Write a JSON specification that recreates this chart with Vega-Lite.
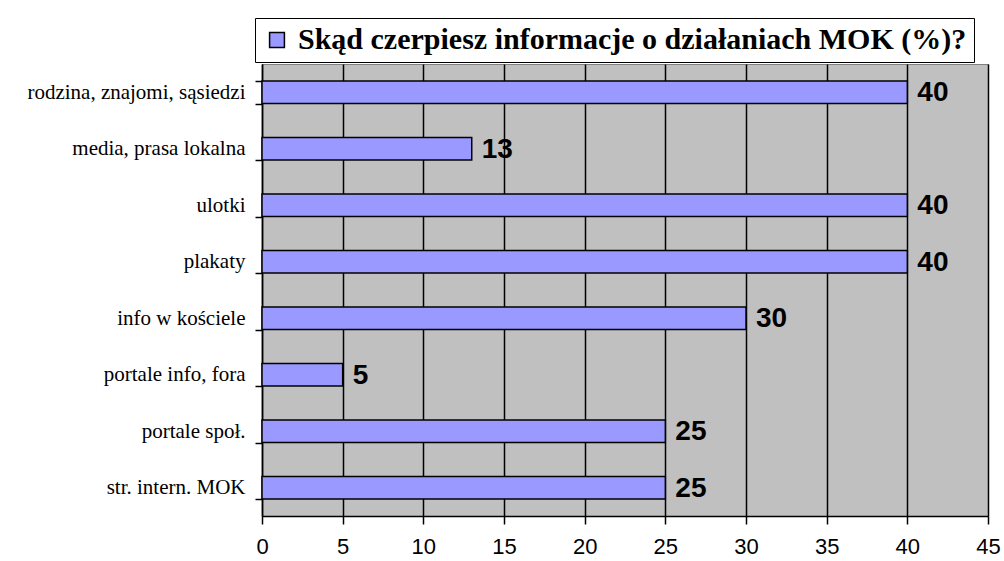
{
  "$schema": "https://vega.github.io/schema/vega-lite/v6.json",
  "width": 726,
  "height": 452,
  "autosize": {"type": "none"},
  "padding": {"left": 262, "top": 64, "right": 16, "bottom": 45},
  "background": "white",
  "config": {
    "view": {"fill": "#C0C0C0", "stroke": "#808080", "strokeWidth": 1}
  },
  "data": {
    "values": [
      {"source": "rodzina, znajomi, sąsiedzi", "value": 40, "series": "Skąd czerpiesz informacje o działaniach MOK (%)?"},
      {"source": "media, prasa lokalna", "value": 13, "series": "Skąd czerpiesz informacje o działaniach MOK (%)?"},
      {"source": "ulotki", "value": 40, "series": "Skąd czerpiesz informacje o działaniach MOK (%)?"},
      {"source": "plakaty", "value": 40, "series": "Skąd czerpiesz informacje o działaniach MOK (%)?"},
      {"source": "info w kościele", "value": 30, "series": "Skąd czerpiesz informacje o działaniach MOK (%)?"},
      {"source": "portale info, fora", "value": 5, "series": "Skąd czerpiesz informacje o działaniach MOK (%)?"},
      {"source": "portale społ.", "value": 25, "series": "Skąd czerpiesz informacje o działaniach MOK (%)?"},
      {"source": "str. intern. MOK", "value": 25, "series": "Skąd czerpiesz informacje o działaniach MOK (%)?"}
    ]
  },
  "encoding": {
    "y": {
      "field": "source",
      "type": "nominal",
      "sort": null,
      "scale": {"paddingInner": 0.6, "paddingOuter": 0.3},
      "axis": {
        "title": null,
        "tickBand": "extent",
        "domainColor": "black",
        "domainWidth": 1.5,
        "tickColor": "black",
        "tickWidth": 1.5,
        "tickSize": 7,
        "labelFont": "Liberation Serif",
        "labelFontSize": 21,
        "labelColor": "black",
        "labelPadding": 10,
        "labelLimit": 300,
        "grid": false
      }
    },
    "x": {
      "field": "value",
      "type": "quantitative",
      "scale": {"domain": [0, 45], "nice": false},
      "axis": {
        "title": null,
        "values": [0, 5, 10, 15, 20, 25, 30, 35, 40, 45],
        "grid": true,
        "gridColor": "black",
        "gridWidth": 1.5,
        "gridOpacity": 1,
        "domainColor": "black",
        "domainWidth": 1.5,
        "tickColor": "black",
        "tickWidth": 1.5,
        "tickSize": 8,
        "labelFont": "Liberation Sans",
        "labelFontSize": 22,
        "labelColor": "black",
        "labelPadding": 12,
        "labelFlush": false
      }
    }
  },
  "layer": [
    {
      "mark": {"type": "bar", "stroke": "black", "strokeWidth": 1.5},
      "encoding": {
        "color": {
          "field": "series",
          "type": "nominal",
          "scale": {"range": ["#9999FF"]},
          "legend": {
            "title": null,
            "orient": "none",
            "legendX": -7,
            "legendY": -46,
            "symbolType": "square",
            "symbolSize": 220,
            "symbolStrokeColor": "black",
            "symbolStrokeWidth": 1.5,
            "labelFont": "Liberation Serif",
            "labelFontSize": 30,
            "labelFontWeight": "bold",
            "labelColor": "black",
            "labelLimit": 1000,
            "labelOffset": 6,
            "strokeColor": "black",
            "fillColor": "white",
            "padding": 7
          }
        }
      }
    },
    {
      "mark": {
        "type": "text",
        "align": "left",
        "baseline": "middle",
        "dx": 10,
        "dy": 1,
        "font": "Liberation Sans",
        "fontSize": 28,
        "fontWeight": "bold",
        "color": "black"
      },
      "encoding": {"text": {"field": "value", "type": "quantitative"}}
    }
  ]
}
